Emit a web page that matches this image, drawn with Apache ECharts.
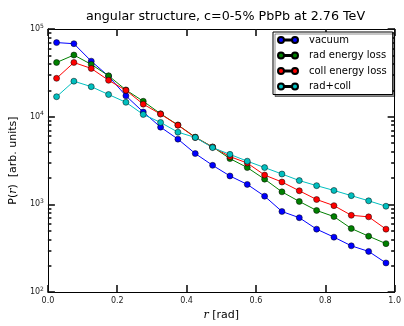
<!DOCTYPE html>
<html><head><meta charset="utf-8">
<script src="https://cdn.jsdelivr.net/npm/echarts@6/dist/echarts.min.js"></script>
<style>html,body{margin:0;padding:0;background:#fff}#c{width:404px;height:326px}</style>
</head><body><div id="c"></div>
<script>
const rValues = [0.025,0.075,0.125,0.175,0.225,0.275,0.325,0.375,0.425,0.475,0.525,0.575,0.625,0.675,0.725,0.775,0.825,0.875,0.925,0.975];
const vacuum = [70000,68000,43000,29000,17300,11300,7600,5550,3800,2790,2110,1690,1240,830,705,522,423,337,291,215];
const radLoss = [41500,50500,39500,29300,20200,15000,10800,8050,5850,4520,3330,2630,1940,1390,1080,853,726,531,434,357];
const collLoss = [27400,41500,35500,26000,20000,13900,10700,8000,5800,4500,3510,2960,2160,1800,1430,1137,968,751,721,522];
const radColl = [16900,25400,22000,17900,14600,10600,8600,6660,5800,4440,3720,3110,2630,2220,1870,1636,1442,1259,1099,953];
const seriesNames = ['vacuum','rad energy loss','coll energy loss','rad+coll'];
const seriesColors = ['#0000ff','#008000','#ff0000','#00bfbf'];
const minorY = [200,300,400,500,600,700,800,900,2000,3000,4000,5000,6000,7000,8000,9000,20000,30000,40000,50000,60000,70000,80000,90000];

const chart = echarts.init(document.getElementById('c'));
const allData = [vacuum, radLoss, collLoss, radColl];
const font = 'DejaVu Sans';
const legendIcon = 'path://M0,3a3,3 0 1,0 6,0a3,3 0 1,0 -6,0ZM14,3a3,3 0 1,0 6,0a3,3 0 1,0 -6,0ZM6,2.5L14,2.5L14,3.5L6,3.5Z';
const nameRich = {n:{fontFamily:font, fontSize:11, color:'#000'}, i:{fontFamily:'DejaVu Serif', fontStyle:'italic', fontSize:11, color:'#000'}};
const tickStyle = {color:'#111', width:1.6};

function tickAxisY(pos, len, custom){
  const t = {type:'log', min:100, max:100000, position:pos,
    axisLine:{show:true, lineStyle:{color:'#000'}}, splitLine:{show:false}, axisLabel:{show:false},
    axisTick:{show:true, inside:true, length:len, lineStyle:tickStyle}};
  if (custom) t.axisTick.customValues = custom;
  return t;
}

chart.setOption({
  animation:false,
  title:{text:'angular structure, c=0-5% PbPb at 2.76 TeV', left:81, top:5,
    textStyle:{fontFamily:font, fontSize:12.7, fontWeight:'normal', color:'#000'}},
  grid:{left:43, right:7, top:29, bottom:25},
  legend:{
    data: seriesNames, orient:'vertical', left:273, top:32, icon:legendIcon, itemWidth:20, itemHeight:6, itemGap:5.5,
    backgroundColor:'#fff', borderColor:'#000', borderWidth:1, padding:[3,6,3,4],
    shadowColor:'rgba(0,0,0,0.45)', shadowOffsetX:2, shadowOffsetY:2, shadowBlur:0,
    textStyle:{fontFamily:font, fontSize:10, color:'#000', padding:[0,0,0,6]}
  },
  xAxis:[
    {type:'value', min:0, max:1, interval:0.2,
     axisLine:{show:true, onZero:false, lineStyle:{color:'#000'}}, splitLine:{show:false},
     axisTick:{show:true, inside:true, length:7, lineStyle:tickStyle},
     axisLabel:{fontFamily:font, fontSize:8, color:'#222', margin:5, formatter: v => v.toFixed(1)},
     name:'{i|r}{n| [rad]}', nameLocation:'middle', nameGap:17, nameTextStyle:{rich:nameRich}},
    {type:'value', min:0, max:1, interval:0.2, position:'top',
     axisLine:{show:true, onZero:false, lineStyle:{color:'#000'}}, splitLine:{show:false},
     axisTick:{show:true, inside:true, length:7, lineStyle:tickStyle}, axisLabel:{show:false}}
  ],
  yAxis:[
    {type:'log', min:100, max:100000,
     axisLine:{show:true, lineStyle:{color:'#000'}}, splitLine:{show:false},
     axisTick:{show:true, inside:true, length:7, lineStyle:tickStyle},
     axisLabel:{fontFamily:font, fontSize:8, color:'#222', margin:4,
       formatter: v => '{b|10}{s|' + Math.round(Math.log10(v)) + '}',
       rich:{b:{fontSize:8, fontFamily:font, color:'#222'}, s:{fontSize:6, fontFamily:font, color:'#222', padding:[0,0,6,0]}}},
     name:'{n|P(}{i|r}{n|)  [arb. units]}', nameLocation:'middle', nameGap:26, nameTextStyle:{rich:nameRich}},
    tickAxisY('left', 3.5, minorY),
    tickAxisY('right', 7, null),
    tickAxisY('right', 3.5, minorY)
  ],
  series: allData.map((arr,i) => ({
    name: seriesNames[i], type:'line',
    data: arr.map((v,j) => [rValues[j], v]),
    symbol:'circle', symbolSize:6,
    lineStyle:{color:seriesColors[i], width:1},
    itemStyle:{color:seriesColors[i], borderColor:'#000', borderWidth:0.5}
  }))
});
</script></body></html>
